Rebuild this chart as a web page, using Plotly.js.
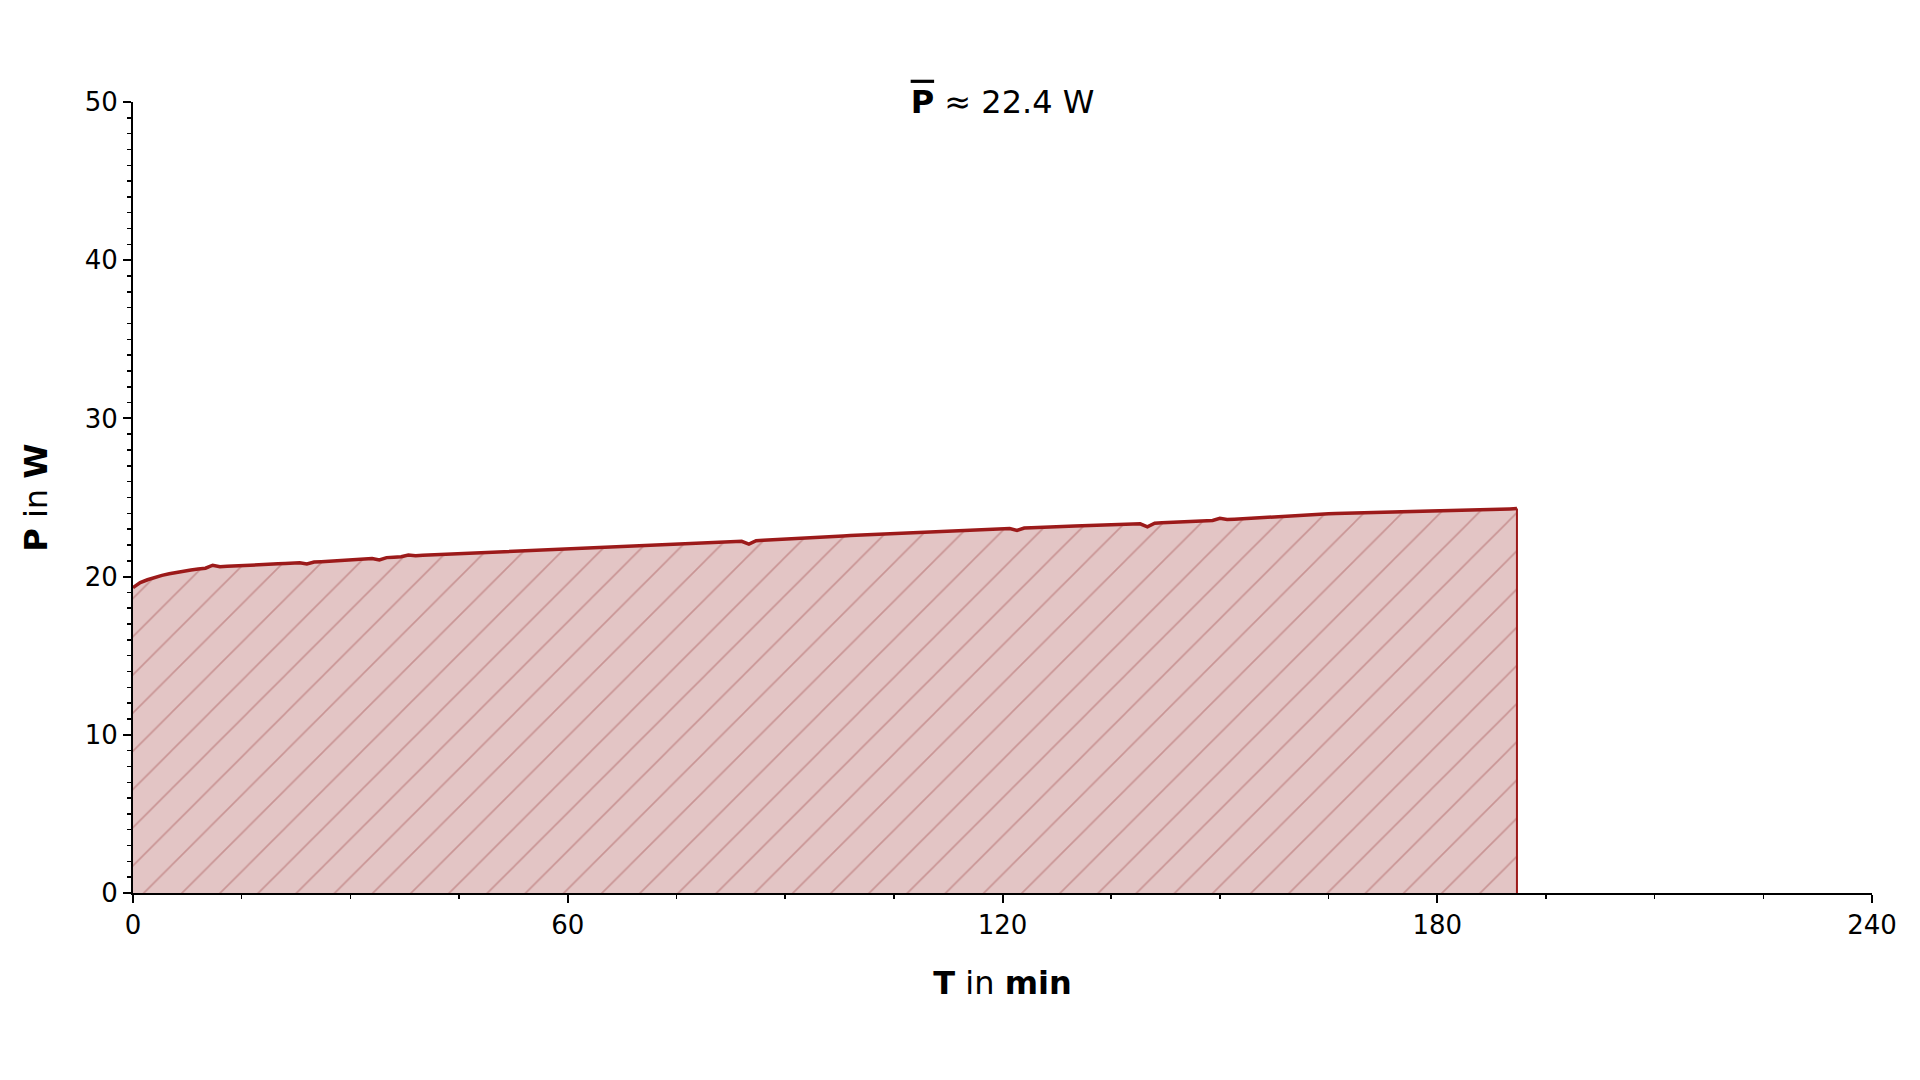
<!DOCTYPE html>
<html>
<head>
<meta charset="utf-8">
<script src="https://cdn.plot.ly/plotly-3.0.1.min.js"></script>
<style>html,body{margin:0;padding:0;background:#fff;}#chart{width:1920px;height:1080px;}</style>
</head>
<body>
<div id="chart"></div>
<script>
// Power samples, one per minute starting at T = 0 min
const startMin = 0;
const stepMin = 1;
const powerW = [
  19.30, 19.62, 19.80, 19.95, 20.08, 20.18, 20.27, 20.35, 20.42, 20.48,
  20.53, 20.72, 20.62, 20.65, 20.68, 20.70, 20.73, 20.75, 20.77, 20.79,
  20.81, 20.83, 20.85, 20.88, 20.80, 20.92, 20.94, 20.97, 20.99, 21.02,
  21.05, 21.08, 21.11, 21.14, 21.05, 21.20, 21.23, 21.26, 21.36, 21.32,
  21.35, 21.37, 21.40, 21.42, 21.45, 21.47, 21.49, 21.51, 21.54, 21.56,
  21.58, 21.60, 21.62, 21.64, 21.66, 21.68, 21.70, 21.72, 21.74, 21.76,
  21.78, 21.80, 21.82, 21.83, 21.85, 21.87, 21.89, 21.90, 21.92, 21.93,
  21.95, 21.97, 21.98, 22.00, 22.02, 22.03, 22.05, 22.07, 22.09, 22.11,
  22.13, 22.15, 22.18, 22.20, 22.23, 22.05, 22.27, 22.30, 22.32, 22.35,
  22.37, 22.40, 22.42, 22.45, 22.47, 22.50, 22.52, 22.55, 22.57, 22.60,
  22.62, 22.64, 22.66, 22.69, 22.71, 22.73, 22.75, 22.77, 22.79, 22.81,
  22.83, 22.85, 22.87, 22.89, 22.91, 22.93, 22.95, 22.97, 22.98, 23.00,
  23.02, 23.04, 22.92, 23.07, 23.09, 23.10, 23.12, 23.14, 23.16, 23.18,
  23.20, 23.22, 23.23, 23.25, 23.27, 23.28, 23.30, 23.31, 23.33, 23.34,
  23.15, 23.38, 23.40, 23.42, 23.44, 23.46, 23.48, 23.50, 23.53, 23.55,
  23.68, 23.61, 23.63, 23.66, 23.69, 23.72, 23.74, 23.77, 23.80, 23.82,
  23.85, 23.87, 23.90, 23.92, 23.95, 23.97, 23.99, 24.00, 24.02, 24.03,
  24.05, 24.06, 24.08, 24.09, 24.11, 24.12, 24.13, 24.14, 24.15, 24.17,
  24.18, 24.19, 24.20, 24.21, 24.22, 24.23, 24.24, 24.25, 24.26, 24.27,
  24.28, 24.30
];
const meanPowerW = 22.4;
const xTickVals = [0, 60, 120, 180, 240];
const yTickVals = [0, 10, 20, 30, 40, 50];

const lineColor = '#9c1a1a';
const fillColor = '#e3c5c5';
const hatchColor = '#c99494';

const lastT = startMin + stepMin * (powerW.length - 1);
const lastP = powerW[powerW.length - 1];

const traces = [
  {
    type: 'scatter', mode: 'lines',
    x0: startMin, dx: stepMin, y: powerW,
    line: {color: lineColor, width: 3.5},
    fill: 'tozeroy', fillcolor: fillColor,
    fillpattern: {shape: '/', bgcolor: fillColor, fgcolor: hatchColor, size: 27, solidity: 0.06},
    hoverinfo: 'skip', showlegend: false
  },
  {
    type: 'scatter', mode: 'lines',
    x: [lastT, lastT], y: [lastP, 0],
    line: {color: lineColor, width: 2},
    hoverinfo: 'skip', showlegend: false
  }
];

const layout = {
  width: 1920, height: 1080, autosize: false,
  paper_bgcolor: '#fff', plot_bgcolor: '#fff',
  margin: {l: 133, r: 48, t: 102, b: 187, pad: 0},
  font: {family: 'DejaVu Sans', size: 26, color: '#000'},
  showlegend: false,
  title: {
    text: '<b><span style="text-decoration:overline">P</span></b> \u2248 ' + meanPowerW.toFixed(1) + ' W',
    font: {family: 'DejaVu Sans', size: 32, color: '#000'},
    x: 0.5, xanchor: 'center', xref: 'paper',
    y: 0.906, yanchor: 'middle', yref: 'container'
  },
  xaxis: {
    range: [0, 240], tickmode: 'array', tickvals: xTickVals, ticktext: xTickVals.map(String),
    showgrid: false, zeroline: false,
    showline: true, linecolor: '#000', linewidth: 2,
    ticks: 'outside', ticklen: 8, tickwidth: 2, tickcolor: '#000',
    tickfont: {family: 'DejaVu Sans', size: 26, color: '#000'},
    minor: {dtick: 15, tick0: 0, ticks: 'outside', ticklen: 4, tickwidth: 1.5, tickcolor: '#000', showgrid: false},
    title: {text: '<b>T</b> in <b>min</b>', font: {family: 'DejaVu Sans', size: 32, color: '#000'}, standoff: 32},
    fixedrange: true
  },
  yaxis: {
    range: [0, 50], tickmode: 'array', tickvals: yTickVals, ticktext: yTickVals.map(String),
    showgrid: false, zeroline: false,
    showline: true, linecolor: '#000', linewidth: 2,
    ticks: 'outside', ticklen: 8, tickwidth: 2, tickcolor: '#000',
    tickfont: {family: 'DejaVu Sans', size: 26, color: '#000'},
    minor: {dtick: 1, tick0: 0, ticks: 'outside', ticklen: 4, tickwidth: 1.5, tickcolor: '#000', showgrid: false},
    title: {text: '<b>P</b> in <b>W</b>', font: {family: 'DejaVu Sans', size: 32, color: '#000'}, standoff: 28},
    fixedrange: true
  }
};

Plotly.newPlot('chart', traces, layout, {displayModeBar: false, staticPlot: true});
</script>
</body>
</html>
